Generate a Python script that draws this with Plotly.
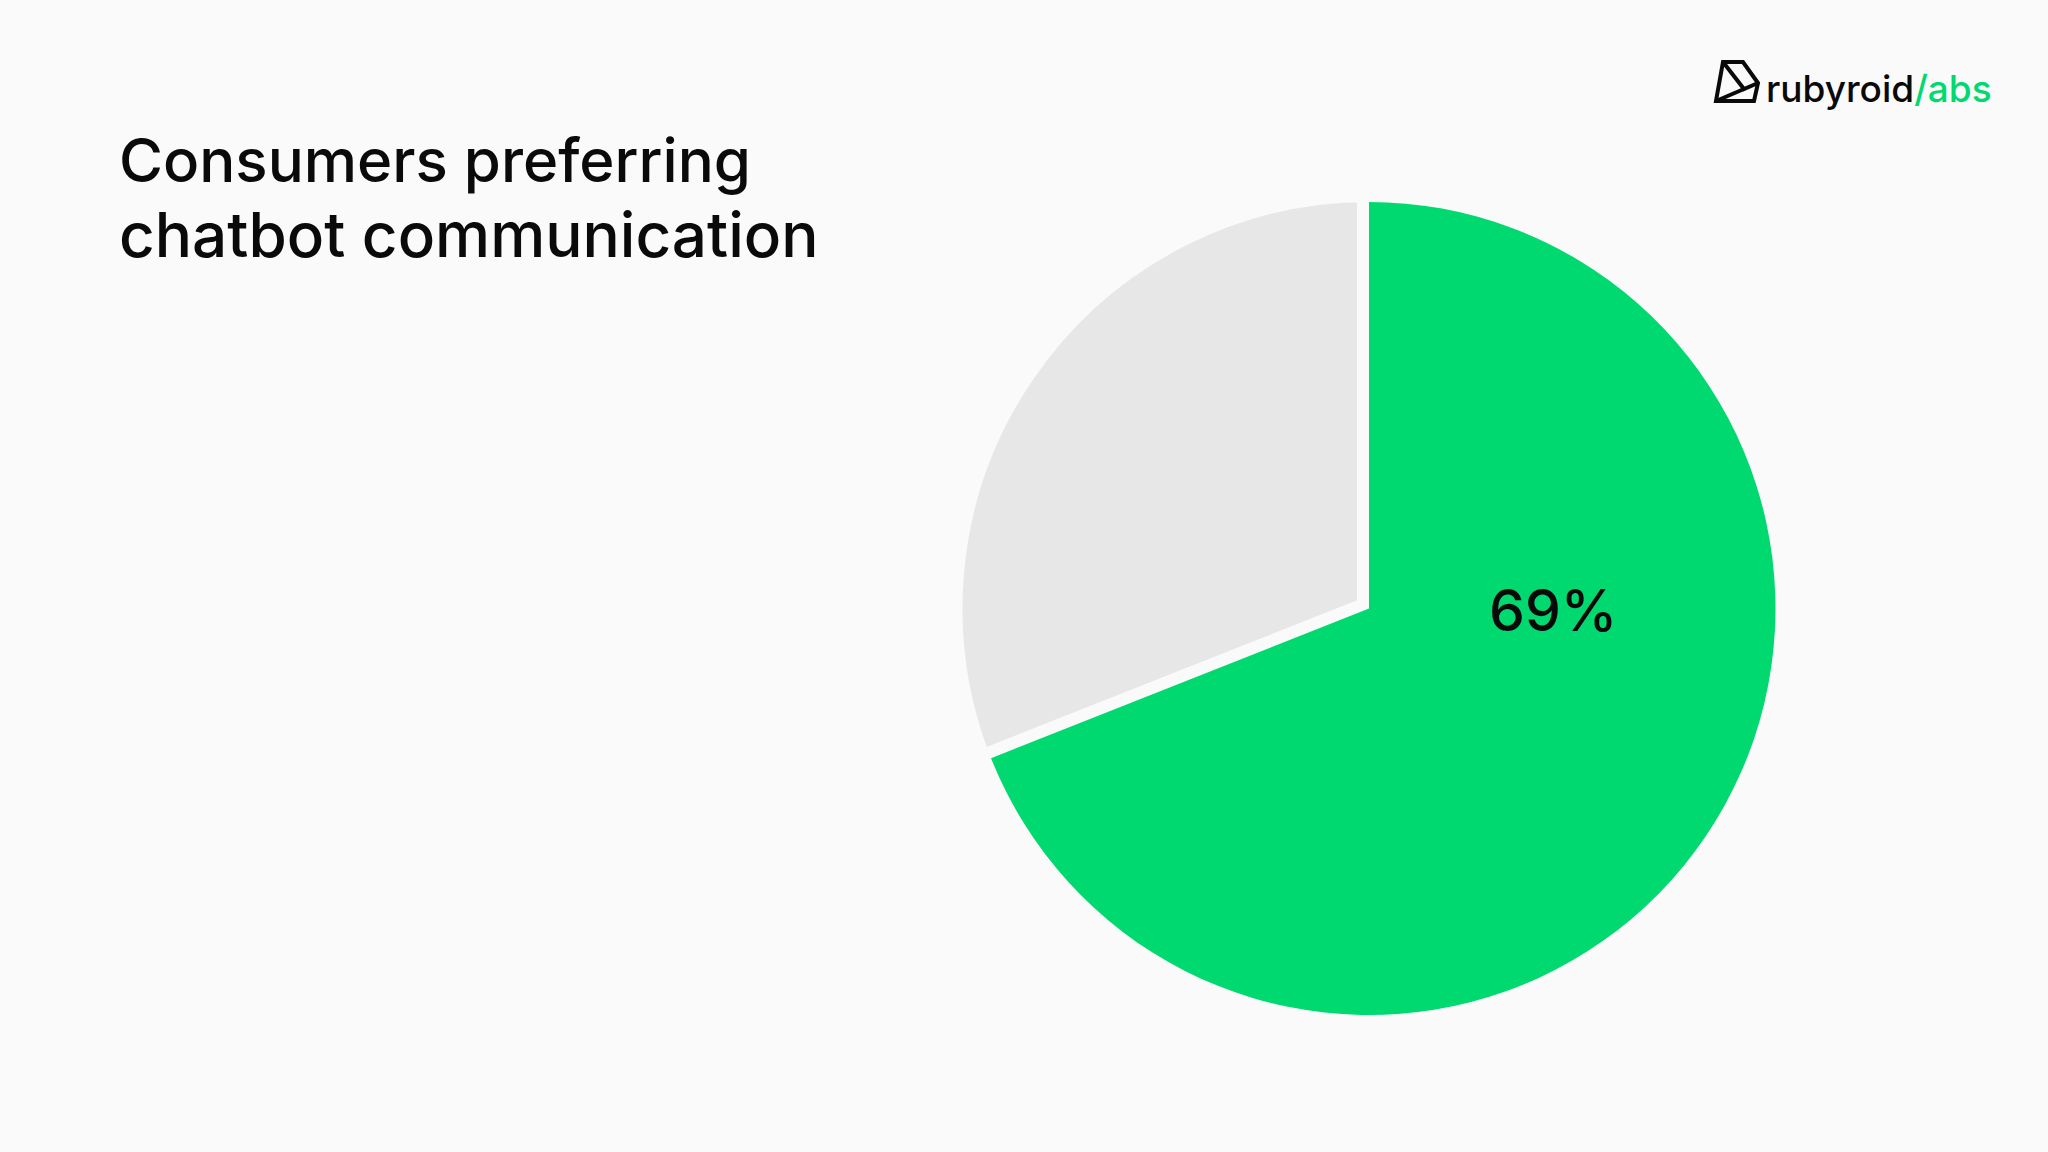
import plotly.graph_objects as go

labels = ["Prefer chatbot communication", "Other"]
values = [69, 31]
colors = ["#00D970", "#E7E7E7"]
title_lines = ["Consumers preferring", "chatbot communication"]

W, H = 2048, 1152
BG = "#FAFAFA"
CLEAR = "rgba(0,0,0,0)"

def px(x):
    return x / W

def py(y):
    return 1 - y / H

cx, cy, R = 1369, 608.5, 406.5
GAP = 12

def dom(half):
    return dict(x=[px(cx - half), px(cx + half)], y=[py(cy + half), py(cy - half)])

common = dict(labels=labels, values=values, sort=False, direction="clockwise",
              rotation=0, textinfo="none", showlegend=False)

# layer 1: grey slice, cut back from the green one by a background-coloured stroke
fig = go.Figure(go.Pie(
    **common,
    marker=dict(colors=[CLEAR, colors[1]], line=dict(color=[CLEAR, BG], width=2 * GAP)),
    domain=dom(R + GAP),
    hoverinfo="skip",
))
# layer 2: green slice
fig.add_trace(go.Pie(
    **common,
    marker=dict(colors=[colors[0], CLEAR], line=dict(width=0)),
    domain=dom(R),
    hoverinfo="label+percent",
))

FONT = "Inter, Noto Sans, sans-serif"
ann = []
ann.append(dict(text=title_lines[0], x=px(117), y=py(160), xref="paper", yref="paper",
                xanchor="left", yanchor="middle", showarrow=False,
                font=dict(family=FONT, size=60, color="#0A0A0A", weight=500)))
ann.append(dict(text=title_lines[1], x=px(117), y=py(234), xref="paper", yref="paper",
                xanchor="left", yanchor="middle", showarrow=False,
                font=dict(family=FONT, size=62, color="#0A0A0A", weight=500)))
ann.append(dict(text=f"{values[0]}%", x=px(1553), y=py(610), xref="paper", yref="paper",
                xanchor="center", yanchor="middle", showarrow=False,
                font=dict(family=FONT, size=57, color="#0A0A0A", weight=500)))
ann.append(dict(text="rubyroid<span style='color:#00D970'>/abs</span>", x=px(1764), y=py(89),
                xref="paper", yref="paper", xanchor="left", yanchor="middle", showarrow=False,
                font=dict(family=FONT, size=37, color="#0A0A0A", weight=500)))

def path(pts, close=True):
    s = "M " + " L ".join(f"{px(x):.5f},{py(y):.5f}" for x, y in pts)
    return s + (" Z" if close else "")

shapes = [
    dict(type="path", xref="paper", yref="paper",
         path=path([(1723, 62), (1743, 62), (1758, 83), (1754, 101), (1716, 101)]),
         line=dict(color="#0A0A0A", width=4), fillcolor="rgba(0,0,0,0)"),
    dict(type="path", xref="paper", yref="paper",
         path=path([(1723, 62), (1744, 89), (1758, 83)], close=False),
         line=dict(color="#0A0A0A", width=4), fillcolor="rgba(0,0,0,0)"),
    dict(type="path", xref="paper", yref="paper",
         path=path([(1716, 101), (1744, 89)], close=False),
         line=dict(color="#0A0A0A", width=4), fillcolor="rgba(0,0,0,0)"),
]

fig.update_layout(
    width=W, height=H,
    margin=dict(l=0, r=0, t=0, b=0),
    paper_bgcolor=BG, plot_bgcolor=BG,
    annotations=ann,
    shapes=shapes,
)

fig.write_html(
    "out.html",
    config={"displayModeBar": False},
    post_script="document.body.style.margin='0';document.body.style.background='#FAFAFA';document.body.style.overflow='hidden';",
)
